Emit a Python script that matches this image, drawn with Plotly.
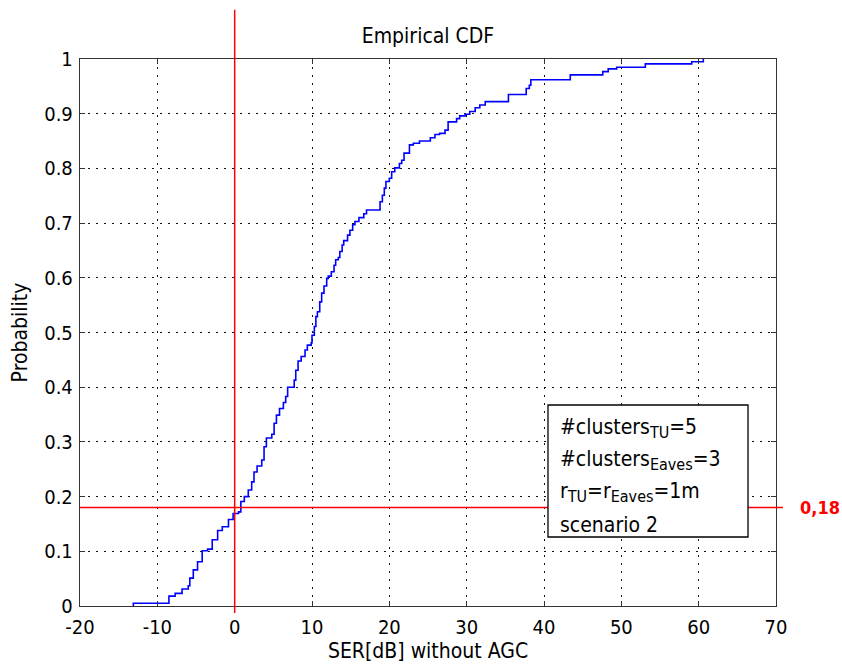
import plotly.graph_objects as go

# Empirical CDF step points: sample value (dB) and cumulative probability after the step
ser_db = [-13.1, -8.5, -7.7, -6.8, -6.0, -5.8, -5.35, -4.8, -4.2, -3.5,
          -2.9, -2.2, -1.6, -0.8, -0.2, 0.5, 0.8, 1.25, 1.76, 2.2,
          2.5, 2.9, 3.5, 3.8, 4.1, 4.8, 5.1, 5.4, 5.8, 6.3,
          6.6, 6.85, 7.7, 7.9, 8.2, 8.6, 9.1, 9.4, 9.9, 10.0,
          10.3, 10.5, 10.7, 11.0, 11.25, 11.55, 11.9, 12.1, 12.5, 12.85,
          13.06, 13.4, 13.6, 13.9, 14.1, 14.6, 14.9, 15.26, 15.55, 16.07,
          16.7, 17.05, 18.8, 19.1, 19.35, 19.56, 20.0, 20.3, 20.7, 21.3,
          21.6, 21.9, 22.6, 23.1, 23.9, 25.3, 25.9, 26.5, 27.2, 27.6,
          28.7, 29.1, 29.8, 30.4, 31.1, 31.7, 32.4, 35.4, 37.7, 38.1,
          38.3, 43.4, 47.6, 48.3, 49.4, 53.1, 59.1, 60.6]
cdf = [0.005, 0.018, 0.023, 0.031, 0.037, 0.051, 0.066, 0.081, 0.101, 0.104,
       0.121, 0.138, 0.145, 0.158, 0.169, 0.172, 0.191, 0.200, 0.212, 0.227,
       0.245, 0.256, 0.267, 0.291, 0.307, 0.314, 0.334, 0.349, 0.361, 0.372,
       0.383, 0.400, 0.413, 0.431, 0.448, 0.456, 0.468, 0.477, 0.481, 0.495,
       0.511, 0.529, 0.538, 0.556, 0.572, 0.585, 0.599, 0.603, 0.611, 0.623,
       0.633, 0.637, 0.648, 0.660, 0.668, 0.678, 0.687, 0.697, 0.703, 0.710,
       0.717, 0.724, 0.739, 0.751, 0.764, 0.776, 0.782, 0.794, 0.801, 0.809,
       0.815, 0.828, 0.843, 0.846, 0.850, 0.856, 0.862, 0.864, 0.870, 0.885,
       0.891, 0.896, 0.899, 0.904, 0.911, 0.916, 0.922, 0.935, 0.946, 0.952,
       0.962, 0.971, 0.977, 0.982, 0.985, 0.991, 0.995, 1.000]

x_ticks = [-20, -10, 0, 10, 20, 30, 40, 50, 60, 70]
x_tick_text = ["-20", "-10", "0", "10", "20", "30", "40", "50", "60", "70"]
y_ticks = [0, 0.1, 0.2, 0.3, 0.4, 0.5, 0.6, 0.7, 0.8, 0.9, 1]
y_tick_text = ["0", "0.1", "0.2", "0.3", "0.4", "0.5", "0.6", "0.7", "0.8", "0.9", "1"]

ser_threshold = 0
prob_threshold = 0.18
prob_label = "0,18"

SUB = "<sub><span style='font-size:16px'>{}</span></sub>"
info_lines = [
    "#clusters" + SUB.format("TU") + "=5",
    "#clusters" + SUB.format("Eaves") + "=3",
    "r" + SUB.format("TU") + "=r" + SUB.format("Eaves") + "=1m",
    "scenario 2",
]

FONT = "DejaVu Sans Condensed, Liberation Sans, Arial, sans-serif"

fig = go.Figure()
fig.add_trace(go.Scatter(
    x=[ser_db[0]] + ser_db,
    y=[0] + cdf,
    mode="lines",
    line=dict(color="#0000ff", width=1.6, shape="hv"),
    showlegend=False,
    hoverinfo="skip",
))

axis_common = dict(
    showgrid=True, gridcolor="#111111", gridwidth=1.2, griddash="1.5px,6.5px",
    showline=True, linecolor="#333333", linewidth=1.4, mirror="ticks",
    ticks="inside", ticklen=5, tickcolor="#333333", tickwidth=1.4,
    zeroline=False, automargin=False,
    tickfont=dict(family=FONT, size=20, color="black"),
)

fig.update_layout(
    width=842, height=666,
    margin=dict(l=80, r=66, t=59, b=60, autoexpand=False),
    paper_bgcolor="white", plot_bgcolor="white",
    title=dict(text="Empirical CDF", x=0.5, xref="paper", y=1, yref="paper",
               yanchor="bottom", pad=dict(b=16), automargin=False,
               font=dict(family=FONT, size=21, color="black")),
    xaxis=dict(range=[-20, 70], tickvals=x_ticks, ticktext=x_tick_text,
               ticklabelstandoff=3,
               title=dict(text="SER[dB] without AGC", standoff=3,
                          font=dict(family=FONT, size=21, color="black")),
               **axis_common),
    yaxis=dict(range=[0, 1], tickvals=y_ticks, ticktext=y_tick_text,
               ticklabelstandoff=2,
               title=dict(text="Probability", standoff=10,
                          font=dict(family=FONT, size=21, color="black")),
               **axis_common),
)

# red reference lines (vertical at 0 dB, horizontal at the probability threshold)
fig.add_shape(type="line", xref="x", yref="paper",
              x0=ser_threshold, x1=ser_threshold, y0=-0.013, y1=1.09,
              line=dict(color="red", width=1.5), layer="above")
fig.add_shape(type="line", xref="paper", yref="y",
              x0=0, x1=1.01, y0=prob_threshold, y1=prob_threshold,
              line=dict(color="red", width=1.5), layer="above")

# info box
fig.add_shape(type="rect", xref="paper", yref="paper",
              x0=0.6724, x1=0.9598, y0=0.1261, y1=0.3675,
              fillcolor="white", line=dict(color="black", width=1.3), layer="above")

line_y = [0.3254, 0.2669, 0.2084, 0.1481]
for txt, yy in zip(info_lines, line_y):
    fig.add_annotation(text=txt, xref="paper", yref="paper", x=0.6868, y=yy,
                       xanchor="left", yanchor="middle", showarrow=False,
                       font=dict(family=FONT, size=21, color="black"))

fig.add_annotation(text="<b>" + prob_label + "</b>", xref="paper", yref="y",
                   x=1.031, y=prob_threshold, xanchor="left", yanchor="middle",
                   showarrow=False, font=dict(family=FONT, size=18, color="red"))

fig.write_html("out.html")
